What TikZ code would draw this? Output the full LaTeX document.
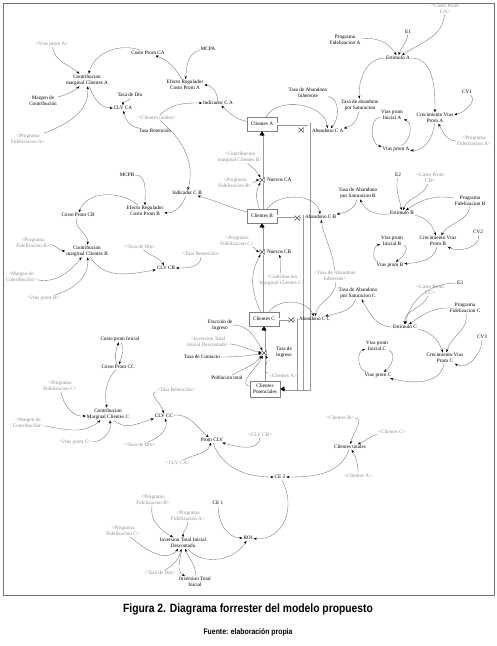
\documentclass[tikz,border=0pt]{standalone}
\usepackage{fontspec}
\usepackage{graphicx}
\setmainfont{Liberation Serif}
\newfontfamily\capfont{Liberation Sans}
\usetikzlibrary{arrows.meta,calc}
\begin{document}
\begin{tikzpicture}[x=1pt,y=1pt,
 v/.style={font=\fontsize{5.2}{5.9}\selectfont, align=center, inner sep=0.8pt},
 sh/.style={v, text=black!45},
 stock/.style={v, draw=black!50, fill=white, line width=0.5pt, minimum width=30pt, minimum height=14pt, inner sep=1pt},
 lk/.style={draw=black!55, line width=0.35pt, -{Stealth[length=3.2pt,width=2.4pt,black]}},
 pipe/.style={draw=white, line width=1.5pt, shorten >=3pt, preaction={draw=black!40, line width=3pt}},
 ptip/.style={-{Triangle[length=4pt,width=5pt]}, black, line width=0.4pt},
 valve/.style={minimum width=5pt, minimum height=5pt, inner sep=0pt, fill=white,
   path picture={\draw[black!70, line width=0.4pt] (path picture bounding box.south west) -- (path picture bounding box.north east) -- (path picture bounding box.south east) -- (path picture bounding box.north west) -- cycle;}},
]
\useasboundingbox (0,0) rectangle (497,-646);
\draw[black!55, line width=1pt] (3,-3) rectangle (494,-595);

% ---- A contribution block
\node[sh] (vtpA) at (52,-44) {<Vtas prom A>};
\node[v] (cpCA) at (148,-53) {Costo Prom CA};
\node[v] (cmA) at (87,-80) {Contribucion\\marginal Clientes A};
\node[v] (mc1) at (43,-101) {Margen de\\Contribución};
\node[v] (tdto1) at (130,-95) {Tasa de Dto};
\node[v] (clvA) at (123,-108) {CLV CA};
\node[v] (tret) at (155,-131) {Tasa Retención};
\node[sh] (pfA1) at (28,-139) {<Programa\\Fidelizacion A>};
\node[v] (mcpa) at (208,-49) {MCPA};
\node[v] (erA) at (185,-85) {Efecto Regulador\\Costo Prom A};
\node[v] (icA) at (218,-103) {Indicador C A};
\node[sh] (ctot1) at (157,-118) {<Clientes totales>};
\node[v] (taI) at (308,-93) {Tasa de Abandono\\Inherente};

% ---- top right
\node[sh] (cpCA2) at (445,-9) {<Costo Prom\\CA>};
\node[v] (pfA) at (345,-40) {Programa\\Fidelizacion A};
\node[v] (e1) at (408,-32) {E1};
\node[v] (estA) at (398,-58) {Estimulo A};
\node[v] (tasA) at (360,-105) {Tasa de abandono\\por Saturacion};
\node[v] (crA) at (435,-118) {Crecimiento Vtas\\Prom A};
\node[v] (cv1) at (467,-92) {CV1};
\node[sh] (pfA3) at (474,-141) {<Programa\\Fidelizacion A>};
\node[v] (vpiA) at (392,-115) {Vtas prom\\Inicial A};
\node[v] (vpA) at (396,-149) {Vtas prom A};

% ---- B contribution block
\node[v] (mcpb) at (127,-175) {MCPB};
\node[v] (erB) at (145,-211) {Efecto Regulador\\Costo Prom B};
\node[v] (cpCB) at (78,-215) {Costo Prom CB};
\node[v] (cmB) at (87,-251) {Contribucion\\marginal Clientes B};
\node[sh] (pfB1) at (33,-243) {<Programa\\Fidelizacion B>};
\node[sh] (tdto2) at (140,-247) {<Tasa de Dto>};
\node[v] (clvB) at (166,-268) {CLV CB};
\node[sh] (mc2) at (21,-277) {<Margen de\\Contribución>};
\node[sh] (vtpB) at (43,-298) {<Vtas prom B>};
\node[sh] (tret2) at (201,-254) {<Tasa Retención>};
\node[v] (icB) at (187,-193) {Indicador C B};

% ---- stocks
\node[stock] (cliA) at (262,-124) {Clientes A};
\node[stock] (cliB) at (262,-216) {Clientes B};
\node[stock] (cliC) at (264,-319) {Clientes C};
\node[stock, minimum height=16pt] (cpot) at (265,-389) {Clientes\\Potenciales};
\node[sh] (cmB2) at (240,-157) {<Contribucion\\marginal Clientes B>};
\node[sh] (pfB2) at (235,-183) {<Programa\\Fidelizacion B>};
\node[sh] (pfC2) at (237,-241) {<Programa\\Fidelizacion C>};
\node[v] (frI) at (220,-325) {Fracción de\\Ingreso};
\node[sh] (itid) at (208,-342) {<Inversion Total\\Inicial Descontada>};
\node[v] (tcont) at (202,-357) {Tasa de Contacto};
\node[v] (ptot) at (227,-378) {Poblacion total};

% ---- B and C stimulus blocks
\node[v] (e2) at (398,-175) {E2};
\node[sh] (cpCB2) at (430,-178) {<Costo Prom\\CB>};
\node[v] (tasB) at (358,-193) {Tasa de Abandono\\por Saturacion B};
\node[v] (pfB) at (470,-201) {Programa\\Fidelizacion B};
\node[v] (estB) at (402,-213) {Estimulo B};
\node[v] (cv2) at (478,-232) {CV2};
\node[v] (crB) at (438,-241) {Crecimiento Vtas\\Prom B};
\node[v] (vpiB) at (392,-241) {Vtas prom\\Inicial B};
\node[v] (vpB) at (390,-265) {Vtas prom B};
\node[v] (tasC) at (358,-293) {Tasa de Abandono\\por Saturacion C};
\node[sh] (cpCC2) at (430,-290) {<Costo Prom\\CC>};
\node[v] (e3) at (460,-283) {E3};
\node[v] (pfC) at (465,-308) {Programa\\Fidelizacion C};
\node[v] (estC) at (405,-327) {Estimulo C};
\node[v] (cv3) at (482,-337) {CV3};
\node[v] (crC) at (445,-358) {Crecimiento Vtas\\Prom C};
\node[v] (vpiC) at (377,-346) {Vtas prom\\Inicial C};
\node[v] (vpC) at (378,-375) {Vtas prom C};

% ---- C contribution and results
\node[v] (cpI) at (120,-339) {Costo prom Inicial};
\node[v] (cpCC) at (118,-367) {Costo Prom CC};
\node[sh] (pfC1) at (60,-386) {<Programa\\Fidelizacion C>};
\node[v] (cmC) at (108,-414) {Contribucion\\Marginal Clientes C};
\node[sh] (mc3) at (28,-423) {<Margen de\\Contribución>};
\node[sh] (vtpC) at (75,-442) {<Vtas prom C>};
\node[v] (clvC) at (164,-416) {CLV CC};
\node[sh] (tdto3) at (140,-445) {<Tasa de Dto>};
\node[sh] (tret3) at (176,-390) {<Tasa Retención>};
\node[v] (pclv) at (212,-440) {Prom CLV};
\node[sh] (clvB2) at (260,-435) {<CLV CB>};
\node[sh] (clvA2) at (178,-463) {<CLV CA>};
\node[sh] (cliB2) at (340,-418) {<Clientes B>};
\node[sh] (cliC2) at (392,-432) {<Clientes C>};
\node[v] (ctot) at (350,-447) {Clientes totales};
\node[sh] (cliA3) at (358,-476) {<Clientes A>};
\node[v] (ce2) at (280,-477) {CE 2};
\node[v] (ce1) at (218,-503) {CE 1};
\node[v] (roi) at (248,-538) {ROI};
\node[sh] (pfA4) at (188,-516) {<Programa\\Fidelizacion A>};
\node[v] (itd) at (183,-543) {Inversion Total Inicial\\Descontada};
\node[v] (iti) at (195,-582) {Inversion Total\\Inicial};
\node[sh] (pfB4) at (153,-500) {<Programa\\Fidelizacion B>};
\node[sh] (pfC4) at (123,-531) {<Programa\\Fidelizacion C>};
\node[sh] (tdto4) at (160,-573) {<Tasa de Dto>};

% ---- caption
\node[font=\capfont\bfseries\fontsize{12}{14}\selectfont] (cap) at (248,-609) {\scalebox{0.86}[1]{Figura 2. Diagrama forrester del modelo propuesto}};
\node[font=\capfont\bfseries\fontsize{8}{10}\selectfont] (src) at (248,-632) {\scalebox{0.86}[1]{Fuente: elaboración propia}};

% ---- pipes
\coordinate (pA) at (309,-389);
\coordinate (pB) at (302,-389);
\coordinate (pC) at (296,-389);
\draw[pipe] (cliB.north) -- (cliA.south);
\draw[pipe] (cliC.north -| cliB.south) -- (cliB.south);
\draw[pipe] (cpot.north -| cliC.south) -- (cliC.south);
\draw[pipe] (cliA.east) -| (pA) -- (cpot.east);
\draw[pipe] (cliB.east) -| (pB) -- (cpot.east);
\draw[pipe] (cliC.east) -| (pC) -- (cpot.east);
\draw[ptip] ([yshift=-5pt]cliA.south) -- (cliA.south);
\draw[ptip] ([yshift=-5pt]cliB.south) -- (cliB.south);
\draw[ptip] ([yshift=-5pt]cliC.south) -- (cliC.south);
\draw[ptip] ([xshift=5pt]cpot.east) -- (cpot.east);

% ---- valves and labels over the pipes
\node[valve] (vabA) at (301,-130) {};
\node[valve] (vnCA) at (262,-180) {};
\node[valve] (vabB) at (297,-218) {};
\node[valve] (vnCB) at (262,-252) {};
\node[valve] (vabC) at (291,-320) {};
\node[valve] (vti) at (264,-353) {};
\node[v, anchor=west] (abA) at (311,-131) {Abandono C A};
\node[v, anchor=west] (nCA) at (266,-180) {Nuevos CA};
\node[v, anchor=west] (abB) at (304,-217) {Abandono C B};
\node[v, anchor=west] (nCB) at (266,-252) {Nuevos CB};
\node[v, anchor=west] (abC) at (298,-319) {Abandono C C};
\node[sh] (cmC2) at (282,-280) {<Contribucion\\Marginal Clientes C>};
\node[sh] (taI2) at (335,-276) {<Tasa de Abandono\\Inherente>};
\node[sh] (cliA2) at (283,-376) {<Clientes A>};
\node[v] (ti) at (284,-352) {Tasa de\\Ingreso};

% ---- links: A contribution
\draw[lk] (vtpA) to[out=-80,in=140] (cmA);
\draw[lk] (cpCA) to[out=160,in=75] (cmA);
\draw[lk] (mc1) to[out=15,in=-140] (cmA);
\draw[lk] (pfA1) to[out=20,in=-85] (cmA);
\draw[lk] (cmA) to[out=-70,in=180] (clvA);
\draw[lk] (tdto1) to[out=-90,in=90] (clvA);
\draw[lk] (tret) to[out=170,in=-80] (clvA);
\draw[lk] (erA) to[out=120,in=-20] (cpCA);
\draw[lk] (mcpa) to[out=190,in=85] (erA);
\draw[lk] (icA) to[out=95,in=0] (erA);
\draw[lk] (ctot1) to[out=45,in=180] (icA);
\draw[lk] (cliA) to[out=170,in=-40] (icA);
\draw[lk] (cliA) to[out=60,in=95] (abA);
\draw[lk] (taI) to[out=-10,in=45] (abA);
% top right
\draw[lk] (pfA) to[out=5,in=120] (estA);
\draw[lk] (e1) to[out=-95,in=75] (estA);
\draw[lk] (cpCA2) to[out=-95,in=35] (estA);
\draw[lk] (estA) to[out=180,in=95] (tasA);
\draw[lk] (tasA) to[out=-100,in=10] (abA);
\draw[lk] (estA) to[out=0,in=90] (crA);
\draw[lk] (cv1) to[out=-40,in=10] (crA);
\draw[lk] (pfA3) to[out=180,in=-60] (crA);
\draw[lk] (crA) to[out=-95,in=-5] (vpA);
\draw[lk] (vpiA) to[out=190,in=170] (vpA);
\draw[lk] (vpA) to[out=30,in=-20] (vpiA);
% B contribution
\draw[lk] (mcpb) to[out=0,in=90] (erB);
\draw[lk] (erB) to[out=140,in=70] (cpCB);
\draw[lk] (icB) to[out=-110,in=-5] (erB);
\draw[lk] (ctot1) to[out=-40,in=75] (icB);
\draw[lk] (cliB) to[out=165,in=-15] (icB);
\draw[lk] (cpCB) to[out=-110,in=85] (cmB);
\draw[lk] (pfB1) to[out=-5,in=180] (cmB);
\draw[lk] (mc2) to[out=-10,in=-130] (cmB);
\draw[lk] (vtpB) to[out=15,in=-85] (cmB);
\draw[lk] (cmB) to[out=-60,in=190] (clvB);
\draw[lk] (tdto2) to[out=-40,in=125] (clvB);
\draw[lk] (tret2) to[out=-90,in=0] (clvB);
% stocks
\draw[lk] (cmB2) to[out=-40,in=120] (vnCA);
\draw[lk] (pfB2) to[out=0,in=180] (vnCA);
\draw[lk] (cliB) to[out=110,in=-120] (vnCA);
\draw[lk] (cliB) to[out=55,in=100] (abB);
\draw[lk] (taI2) to[out=95,in=-80] (abB);
\draw[lk] (tasB) to[out=-100,in=10] (abB);
\draw[lk] (pfC2) to[out=-20,in=170] (vnCB);
\draw[lk] (cmC2) to[out=100,in=-80] (nCB);
\draw[lk] (cliC) to[out=115,in=-120] (vnCB);
\draw[lk] (cliC) to[out=55,in=110] (abC);
\draw[lk] (taI2) to[out=-85,in=80] (abC);
\draw[lk] (tasC) to[out=-110,in=15] (abC);
\draw[lk] (frI) to[out=0,in=120] (vti);
\draw[lk] (itid) to[out=-5,in=170] (vti);
\draw[lk] (tcont) to[out=0,in=190] (vti);
\draw[lk] (ptot) to[out=30,in=-130] (vti);
\draw[lk] (cliA2) to[out=170,in=-60] (vti);
\draw[lk] (cpot) to[out=170,in=-115] (vti);
% B stimulus
\draw[lk] (e2) to[out=-100,in=100] (estB);
\draw[lk] (cpCB2) to[out=-110,in=70] (estB);
\draw[lk] (pfB) to[out=170,in=35] (estB);
\draw[lk] (estB) to[out=185,in=-70] (tasB);
\draw[lk] (estB) to[out=-10,in=110] (crB);
\draw[lk] (pfB) to[out=-95,in=60] (crB);
\draw[lk] (cv2) to[out=-80,in=-30] (crB);
\draw[lk] (crB) to[out=-100,in=5] (vpB);
\draw[lk] (vpB) to[out=165,in=195] (vpiB);
\draw[lk] (vpiB) to[out=-20,in=30] (vpB);
% C stimulus
\draw[lk] (e3) to[out=180,in=80] (estC);
\draw[lk] (cpCC2) to[out=-110,in=95] (estC);
\draw[lk] (pfC) to[out=180,in=35] (estC);
\draw[lk] (estC) to[out=180,in=-60] (tasC);
\draw[lk] (estC) to[out=-10,in=110] (crC);
\draw[lk] (pfC) to[out=-80,in=75] (crC);
\draw[lk] (cv3) to[out=-90,in=-30] (crC);
\draw[lk] (crC) to[out=-100,in=-15] (vpC);
\draw[lk] (vpC) to[out=165,in=195] (vpiC);
\draw[lk] (vpiC) to[out=-20,in=30] (vpC);
% C contribution and results
\draw[lk] (cpI) to[out=-70,in=70] (cpCC);
\draw[lk] (cpCC) to[out=110,in=-110] (cpI);
\draw[lk] (cpCC) to[out=-130,in=100] (cmC);
\draw[lk] (pfC1) to[out=-80,in=185] (cmC);
\draw[lk] (mc3) to[out=-10,in=-140] (cmC);
\draw[lk] (vtpC) to[out=0,in=-75] (cmC);
\draw[lk] (cmC) to[out=-45,in=195] (clvC);
\draw[lk] (tret3) to[out=185,in=100] (clvC);
\draw[lk] (tdto3) to[out=20,in=-70] (clvC);
\draw[lk] (clvC) to[out=5,in=140] (pclv);
\draw[lk] (clvB2) to[out=-95,in=-15] (pclv);
\draw[lk] (clvA2) to[out=30,in=-110] (pclv);
\draw[lk] (pclv) to[out=-70,in=180] (ce2);
\draw[lk] (ctot) to[out=-110,in=0] (ce2);
\draw[lk] (cliB2) to[out=0,in=80] (ctot);
\draw[lk] (cliC2) to[out=190,in=20] (ctot);
\draw[lk] (cliA3) to[out=90,in=-60] (ctot);
\draw[lk] (ce1) to[out=-90,in=180] (roi);
\draw[lk] (ce2) to[out=-60,in=-5,looseness=1.2] (roi);
\draw[lk] (pfA4) to[out=-90,in=90] (itd);
\draw[lk] (pfB4) to[out=-100,in=150] (itd);
\draw[lk] (pfC4) to[out=-40,in=-130] (itd);
\draw[lk] (tdto4) to[out=30,in=-105] (itd);
\draw[lk] (itd) to[out=-100,in=150] (iti);
\draw[lk] (iti) to[out=85,in=-70] (itd);
\draw[lk] (itd) to[out=-50,in=-120] (roi);
\end{tikzpicture}
\end{document}
